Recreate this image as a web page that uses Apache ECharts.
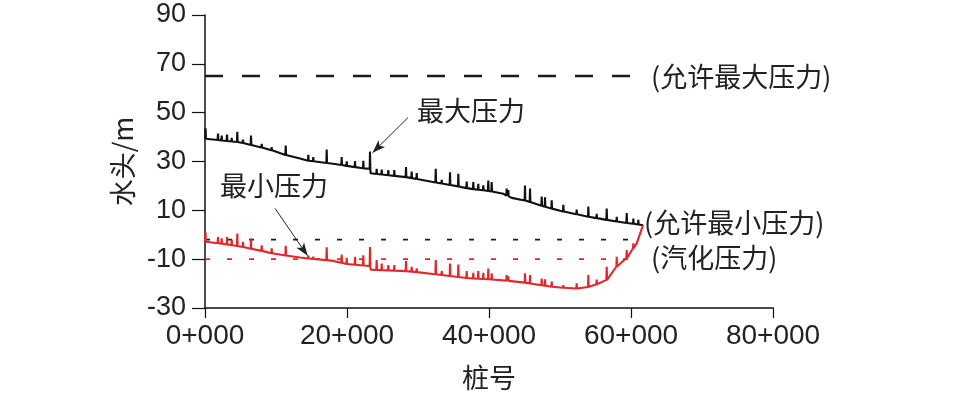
<!DOCTYPE html>
<html>
<head>
<meta charset="utf-8">
<script src="https://cdn.jsdelivr.net/npm/echarts@6/dist/echarts.min.js"></script>
<style>
  html, body { margin: 0; padding: 0; background: #fff; }
  #head-chart { width: 957px; height: 396px; }
</style>
</head>
<body>
<div id="head-chart"></div>
<script>
// 桩号 (m)，基线水头与尖峰水头 (m)
const maxStation = [80, 1830, 2350, 3100, 3760, 4550, 5350, 6480, 7990, 9390, 11370, 13380, 14550, 15250, 17140, 18030, 19250, 19960, 21130, 22300, 23240, 23320, 24180, 24890, 25820, 26660, 28310, 29110, 29820, 32110, 32500, 33340, 34510, 35680, 36860, 37790, 38490, 39200, 39900, 40380, 42000, 42490, 42720, 43200, 45070, 45780, 47420, 47890, 48830, 50470, 52350, 53990, 55170, 56580, 57990, 59400, 60330, 61030, 61700];
const maxBase = [39.3, 38.8, 38.6, 38.4, 38.2, 38.0, 37.6, 36.8, 35.7, 34.6, 32.7, 31.2, 30.3, 30.1, 29.4, 29.1, 28.6, 28.2, 27.7, 27.2, 27.0, 25.2, 24.9, 24.7, 24.4, 24.1, 23.6, 23.2, 22.8, 21.6, 21.4, 21.0, 20.4, 19.8, 19.1, 18.7, 18.4, 18.2, 17.9, 17.7, 16.8, 16.0, 15.7, 15.1, 14.0, 13.4, 11.9, 11.5, 10.7, 9.5, 8.4, 7.4, 6.8, 6.1, 5.4, 4.8, 4.5, 4.2, 3.9];
const maxPeak = [43.6, 41.4, 40.6, 41.0, 39.7, 42.2, 39.0, 40.6, 37.2, 35.9, 36.5, 31.2, 32.7, 31.8, 34.9, 29.1, 31.8, 30.1, 30.2, 30.3, 34.1, 25.2, 27.0, 26.7, 26.5, 26.5, 27.7, 25.9, 25.3, 21.6, 27.0, 22.5, 25.6, 25.0, 21.8, 21.6, 20.9, 20.2, 22.2, 21.6, 16.8, 18.9, 18.3, 15.1, 20.2, 18.9, 15.7, 15.3, 14.1, 12.3, 10.3, 11.6, 8.6, 10.7, 7.3, 8.9, 6.6, 6.1, 3.9];

const minStation = [80, 1830, 2350, 3100, 3760, 4550, 5350, 6480, 7990, 9390, 11370, 13380, 14550, 15250, 17140, 18030, 19250, 19960, 21130, 22300, 23240, 23320, 24180, 24890, 25820, 26660, 28310, 29110, 29820, 32110, 32500, 33340, 34510, 35680, 36860, 37790, 38490, 39200, 39900, 40380, 42490, 42720, 45070, 45780, 47420, 47890, 48830, 50470, 52350, 53990, 55170, 56580, 57990, 59400, 60330, 60810, 61700];
const minBase = [-2.9, -3.5, -3.7, -4.0, -4.3, -4.6, -5.0, -5.7, -6.6, -7.6, -8.5, -9.3, -9.7, -9.9, -10.4, -10.7, -11.5, -12.0, -12.3, -12.6, -12.8, -14.3, -14.4, -14.5, -14.6, -14.7, -14.9, -15.1, -15.3, -16.1, -16.2, -16.5, -16.9, -17.3, -17.7, -17.9, -18.0, -18.1, -18.2, -18.3, -18.8, -18.9, -19.6, -20.0, -20.7, -20.9, -21.3, -21.7, -22.0, -21.4, -20.3, -18.5, -13.0, -9.5, -5.5, -3.5, 4.0];
const minPeak = [1.0, -0.9, -1.5, -0.9, -2.0, 0.5, -2.9, -1.5, -4.3, -5.6, -4.5, -9.3, -8.5, -9.0, -5.1, -10.7, -8.1, -9.4, -9.0, -8.4, -5.0, -14.3, -10.4, -11.8, -12.4, -12.4, -10.8, -13.1, -13.8, -16.1, -10.4, -14.9, -11.8, -12.2, -14.9, -15.6, -14.9, -15.6, -13.8, -15.8, -16.5, -17.0, -15.8, -16.5, -17.9, -18.2, -19.2, -20.6, -19.9, -16.5, -18.4, -13.1, -9.0, -6.3, -3.5, -3.5, 4.0];

// 控制压力水平线：允许最大压力、允许最小压力、汽化压力
const refNames = ['(允许最大压力)', '(允许最小压力)', '(汽化压力)'];
const refLevel = [65, -2, -10];
const refEnd = [60300, 60000, 61700];

const xTicks = [0, 20000, 40000, 60000, 80000];

function buildLine(st, base, peak) {
  const d = [];
  st.forEach((s, i) => {
    if (peak[i] > base[i]) {
      d.push([s - 50, base[i]], [s, peak[i]], [s + 50, base[i]]);
    } else {
      d.push([s, base[i]]);
    }
  });
  return d;
}

const numFont = '"Liberation Sans", Arial, sans-serif';
const cjkFont = '"Noto Sans CJK SC", sans-serif';

const chart = echarts.init(document.getElementById('head-chart'));

const refStyles = [
  { color: '#1a1a1a', width: 2.5, type: [18, 19] },
  { color: '#1a1a1a', width: 1.8, type: [5, 17] },
  { color: '#e3262b', width: 1.7, type: [5, 17] }
];

const option = {
  animation: false,
  backgroundColor: '#fff',
  grid: { left: 205, right: 184, top: 15, bottom: 88 },
  xAxis: {
    type: 'value',
    min: xTicks[0],
    max: xTicks[xTicks.length - 1],
    interval: 20000,
    name: '桩号',
    nameLocation: 'middle',
    nameGap: 56,
    nameTextStyle: { fontFamily: cjkFont, fontSize: 27, color: '#222' },
    axisLine: { show: true, onZero: false, lineStyle: { color: '#111', width: 1.5 } },
    axisTick: { show: true, length: 10, lineStyle: { color: '#111', width: 1.2 } },
    axisLabel: {
      margin: 14,
      fontFamily: numFont,
      fontSize: 28,
      color: '#222',
      formatter: v => (v / 1000) + '+000'
    },
    splitLine: { show: false }
  },
  yAxis: {
    type: 'value',
    min: -30,
    max: 90,
    interval: 20,
    name: '水头/m',
    nameLocation: 'middle',
    nameGap: 69,
    nameTextStyle: { fontFamily: cjkFont, fontSize: 27, color: '#222' },
    axisLine: { show: true, onZero: false, lineStyle: { color: '#111', width: 1.5 } },
    axisTick: { show: true, length: 13, lineStyle: { color: '#111', width: 1.2 } },
    axisLabel: { margin: 19, fontFamily: numFont, fontSize: 27, color: '#222' },
    splitLine: { show: false }
  },
  series: [
    ...refLevel.map((lv, i) => ({
      name: refNames[i],
      type: 'line',
      silent: true,
      showSymbol: false,
      lineStyle: refStyles[i],
      data: [[0, lv], [refEnd[i], lv]]
    })),
    {
      name: '最大压力',
      type: 'line',
      silent: true,
      showSymbol: false,
      lineStyle: { color: '#111', width: 2.1 },
      data: buildLine(maxStation, maxBase, maxPeak),
      markLine: {
        silent: true,
        symbol: ['none', 'arrow'],
        symbolSize: [7, 13],
        label: { show: false },
        lineStyle: { color: '#222', width: 1, type: 'solid' },
        data: [[{ coord: [28600, 48] }, { coord: [23600, 33.6] }]]
      }
    },
    {
      name: '最小压力',
      type: 'line',
      silent: true,
      showSymbol: false,
      lineStyle: { color: '#e3262b', width: 2.1 },
      data: buildLine(minStation, minBase, minPeak),
      markLine: {
        silent: true,
        symbol: ['none', 'arrow'],
        symbolSize: [7, 13],
        label: { show: false },
        lineStyle: { color: '#222', width: 1, type: 'solid' },
        data: [[{ coord: [9860, 10.8] }, { coord: [14450, -8.6] }]]
      }
    }
  ],
  graphic: [
    { type: 'text', x: 417, y: 111, style: { text: '最大压力', font: '27px ' + cjkFont, fill: '#222', verticalAlign: 'middle' } },
    { type: 'text', x: 220, y: 186, style: { text: '最小压力', font: '27px ' + cjkFont, fill: '#222', verticalAlign: 'middle' } },
    { type: 'text', x: 651, y: 77, style: { text: refNames[0], font: '27px ' + cjkFont, fill: '#222', verticalAlign: 'middle' } },
    { type: 'text', x: 644, y: 223, style: { text: refNames[1], font: '27px ' + cjkFont, fill: '#222', verticalAlign: 'middle' } },
    { type: 'text', x: 651, y: 258, style: { text: refNames[2], font: '27px ' + cjkFont, fill: '#222', verticalAlign: 'middle' } }
  ]
};

chart.setOption(option);
</script>
</body>
</html>
